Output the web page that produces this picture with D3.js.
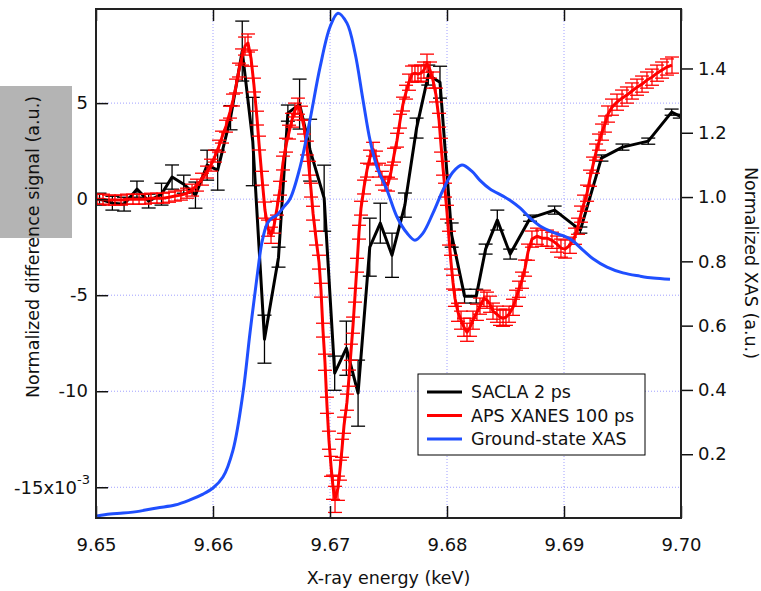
<!DOCTYPE html>
<html>
<head>
<meta charset="utf-8">
<script src="https://cdn.jsdelivr.net/npm/d3@7"></script>
<style>
    body { margin: 0; background: #fff; }
    text { font-family: "DejaVu Sans", Verdana, sans-serif; }
</style>
</head>
<body>
<svg id="chart" width="761" height="591"></svg>
<script>
// SACLA 2 ps difference signal (x1e-3)
var saclaE = [9.6503, 9.6514, 9.6524, 9.6535, 9.6545, 9.6556, 9.6565, 9.6575, 9.6585, 9.6595,
    9.6604, 9.6615, 9.6625, 9.6634, 9.6644, 9.6656, 9.6664, 9.6674, 9.6683, 9.6695,
    9.6704, 9.6714, 9.6724, 9.6734, 9.6743, 9.6753, 9.6764, 9.6774, 9.6784, 9.6794,
    9.6804, 9.6815, 9.6825, 9.6833, 9.6843, 9.6854, 9.6871, 9.6892, 9.6914, 9.6932,
    9.6950, 9.6972, 9.6992, 9.6999];
var saclaV = [0, -0.21, -0.26, 0.52, -0.10, 0.26, 1.15, 0.78, 0.21, 1.77,
    1.51, 4.24, 7.71, 3.0, -7.29, -3.02, 4.48, 4.95, 2.55, 0.05,
    -9.06, -7.76, -10.10, -2.50, -1.25, -2.92, -0.31, 3.70, 6.46, 6.09,
    -1.87, -5.05, -5.05, -2.60, -1.09, -2.86, -0.99, -0.57, -1.61, 2.14,
    2.71, 3.02, 4.53, 4.32];
var saclaErr = [0.31, 0.36, 0.36, 0.42, 0.36, 0.57, 0.63, 0.47, 0.68, 0.78,
    1.04, 0.63, 1.56, 2.3, 1.25, 0.52, 0.42, 1.30, 1.61, 1.72,
    0.89, 1.41, 1.72, 1.51, 1.04, 1.15, 0.63, 0.52, 0.52, 0.83,
    0.63, 0.36, 0.36, 0.26, 0.52, 0.26, 0.16, 0.21, 0.16, 0.16,
    0.16, 0.16, 0.16, 0.10];

// APS XANES 100 ps difference signal (x1e-3)
var apsE = [9.65009, 9.65060, 9.65111, 9.65162, 9.65214, 9.65265, 9.65316, 9.65368, 9.65419, 9.65470,
    9.65521, 9.65573, 9.65624, 9.65675, 9.65726, 9.65778, 9.65821, 9.65863, 9.65906, 9.65949,
    9.65983, 9.66017, 9.66051, 9.66077, 9.66111, 9.66145, 9.66171, 9.66197, 9.66222, 9.66248,
    9.66274, 9.66299, 9.66325, 9.66350, 9.66376, 9.66393, 9.66419, 9.66444, 9.66470, 9.66496,
    9.66521, 9.66547, 9.66573, 9.66598, 9.66624, 9.66650, 9.66675, 9.66701, 9.66726, 9.66752,
    9.66778, 9.66803, 9.66821, 9.66838, 9.66855, 9.66880, 9.66906, 9.66923, 9.66940, 9.66957,
    9.66974, 9.66991, 9.67009, 9.67026, 9.67043, 9.67068, 9.67085, 9.67103, 9.67120, 9.67145,
    9.67162, 9.67179, 9.67197, 9.67214, 9.67231, 9.67248, 9.67265, 9.67291, 9.67316, 9.67342,
    9.67368, 9.67393, 9.67419, 9.67444, 9.67470, 9.67496, 9.67521, 9.67547, 9.67573, 9.67598,
    9.67624, 9.67650, 9.67675, 9.67701, 9.67726, 9.67752, 9.67778, 9.67803, 9.67829, 9.67855,
    9.67880, 9.67906, 9.67932, 9.67949, 9.67966, 9.67983, 9.68000, 9.68017, 9.68034, 9.68051,
    9.68068, 9.68094, 9.68120, 9.68145, 9.68171, 9.68197, 9.68222, 9.68256, 9.68282, 9.68316,
    9.68342, 9.68368, 9.68393, 9.68427, 9.68453, 9.68479, 9.68504, 9.68530, 9.68564, 9.68590,
    9.68615, 9.68641, 9.68667, 9.68692, 9.68726, 9.68769, 9.68812, 9.68855, 9.68897, 9.68940,
    9.68974, 9.69009, 9.69051, 9.69094, 9.69120, 9.69145, 9.69171, 9.69197, 9.69222, 9.69248,
    9.69274, 9.69299, 9.69325, 9.69350, 9.69376, 9.69410, 9.69453, 9.69496, 9.69538, 9.69581,
    9.69624, 9.69667, 9.69709, 9.69752, 9.69795, 9.69838, 9.69880, 9.69923];
var apsV = [0, 0, -0.05, -0.05, -0.05, 0, 0, 0, 0, 0.05,
    0.05, 0.05, 0.10, 0.16, 0.21, 0.31, 0.47, 0.73, 1.04, 1.41,
    1.77, 2.24, 2.76, 3.23, 3.80, 4.53, 5.16, 5.89, 6.72, 7.40,
    7.97, 8.13, 7.34, 5.94, 4.22, 2.92, 1.09, -0.57, -1.51, -1.88,
    -1.41, -0.47, 0.57, 1.88, 2.81, 3.49, 4.11, 4.64, 4.84, 4.48,
    3.75, 2.66, 1.61, 0.47, -0.73, -2.03, -3.28, -4.74, -6.82, -8.49,
    -10.73, -12.55, -13.91, -15.00, -15.63, -15.05, -14.11, -12.97, -11.77, -10.57,
    -9.32, -7.97, -6.56, -5.00, -3.44, -1.72, -0.47, 0.63, 1.51, 2.19,
    2.60, 2.14, 1.51, 1.09, 0.83, 0.78, 1.41, 2.29, 3.07, 4.06,
    4.95, 5.57, 6.09, 6.51, 6.56, 6.51, 6.56, 6.72, 7.08, 6.72,
    6.20, 5.42, 4.11, 2.81, 1.61, 0.47, -0.68, -2.03, -3.28, -4.32,
    -5.16, -5.89, -6.30, -6.67, -6.93, -6.67, -6.30, -5.89, -5.57, -5.16,
    -5.26, -5.47, -5.83, -5.99, -6.15, -6.20, -6.15, -5.99, -5.63, -5.16,
    -4.69, -4.22, -3.59, -2.76, -2.08, -1.93, -2.03, -2.03, -2.14, -2.34,
    -2.55, -2.60, -2.40, -1.93, -1.41, -0.78, -0.21, 0.31, 1.09, 1.77,
    2.45, 2.97, 3.49, 3.91, 4.43, 4.79, 5.05, 5.26, 5.42, 5.63,
    5.83, 5.99, 6.20, 6.35, 6.56, 6.72, 6.88, 6.98];
var apsErr = [0.26, 0.26, 0.26, 0.26, 0.26, 0.26, 0.26, 0.26, 0.26, 0.26,
    0.26, 0.26, 0.26, 0.26, 0.26, 0.26, 0.31, 0.31, 0.31, 0.31,
    0.31, 0.31, 0.31, 0.31, 0.31, 0.31, 0.31, 0.36, 0.36, 0.42,
    0.47, 0.47, 0.42, 0.36, 0.36, 0.36, 0.36, 0.42, 0.42, 0.42,
    0.36, 0.36, 0.36, 0.36, 0.36, 0.36, 0.36, 0.36, 0.42, 0.36,
    0.36, 0.36, 0.36, 0.36, 0.36, 0.36, 0.36, 0.36, 0.36, 0.42,
    0.42, 0.47, 0.52, 0.63, 0.68, 0.63, 0.52, 0.47, 0.42, 0.42,
    0.42, 0.42, 0.42, 0.36, 0.36, 0.36, 0.36, 0.36, 0.36, 0.36,
    0.36, 0.36, 0.36, 0.36, 0.36, 0.36, 0.36, 0.36, 0.36, 0.36,
    0.36, 0.36, 0.42, 0.42, 0.42, 0.42, 0.42, 0.42, 0.47, 0.42,
    0.42, 0.36, 0.36, 0.36, 0.36, 0.36, 0.36, 0.36, 0.36, 0.36,
    0.42, 0.47, 0.47, 0.47, 0.47, 0.47, 0.47, 0.42, 0.42, 0.42,
    0.42, 0.42, 0.42, 0.42, 0.42, 0.42, 0.42, 0.42, 0.42, 0.42,
    0.42, 0.42, 0.42, 0.42, 0.42, 0.42, 0.42, 0.42, 0.42, 0.42,
    0.47, 0.47, 0.42, 0.42, 0.42, 0.42, 0.42, 0.42, 0.42, 0.42,
    0.42, 0.42, 0.42, 0.42, 0.42, 0.42, 0.42, 0.42, 0.42, 0.42,
    0.42, 0.42, 0.42, 0.42, 0.42, 0.42, 0.42, 0.42];

// Ground-state XAS (right axis)
var xasE = [9.65009, 9.65120, 9.65231, 9.65376, 9.65521, 9.65675, 9.65803, 9.65915, 9.66000, 9.66085,
    9.66171, 9.66256, 9.66316, 9.66376, 9.66419, 9.66462, 9.66504, 9.66547, 9.66598, 9.66658,
    9.66744, 9.66829, 9.66915, 9.67000, 9.67068, 9.67145, 9.67214, 9.67282, 9.67342, 9.67402,
    9.67487, 9.67573, 9.67658, 9.67726, 9.67795, 9.67880, 9.67966, 9.68051, 9.68128, 9.68214,
    9.68282, 9.68368, 9.68479, 9.68538, 9.68624, 9.68709, 9.68795, 9.68906, 9.69051, 9.69162,
    9.69248, 9.69368, 9.69504, 9.69650, 9.69761, 9.69906];
var xasV = [0.008, 0.014, 0.017, 0.023, 0.033, 0.042, 0.058, 0.076, 0.095, 0.129,
    0.213, 0.390, 0.577, 0.751, 0.860, 0.916, 0.935, 0.944, 0.966, 0.994,
    1.093, 1.240, 1.404, 1.529, 1.572, 1.541, 1.448, 1.302, 1.177, 1.093,
    1.022, 0.938, 0.888, 0.866, 0.888, 0.950, 1.022, 1.078, 1.100, 1.080,
    1.052, 1.025, 1.003, 0.990, 0.966, 0.935, 0.910, 0.890, 0.870, 0.835,
    0.808, 0.782, 0.764, 0.754, 0.748, 0.744];

var xTicks = [9.65, 9.66, 9.67, 9.68, 9.69, 9.70];
var yTicks = [5, 0, -5, -10, -15];
var y2Ticks = [0.2, 0.4, 0.6, 0.8, 1.0, 1.2, 1.4];
var legendLabels = ["SACLA 2 ps", "APS XANES 100 ps", "Ground-state XAS"];
var colors = ["#000000", "#ff0000", "#1f4fff"];

var svg = d3.select("#chart");
var pL = 96, pR = 681, pT = 9, pB = 518;

var x = d3.scaleLinear().domain([9.65, 9.70]).range([pL, pR]);
var y = d3.scaleLinear().domain([-16.6, 9.9]).range([pB, pT]);
var y2 = d3.scaleLinear().domain([0.0016, 1.585]).range([pB, pT]);

svg.append("clipPath").attr("id", "plotclip")
    .append("rect").attr("x", pL).attr("y", pT)
    .attr("width", pR - pL).attr("height", pB - pT);

// grid
var grid = svg.append("g").attr("stroke", "#a0a0ff").attr("stroke-width", 1)
    .attr("stroke-dasharray", "1,2");
grid.selectAll(".gx").data(xTicks).enter().append("line")
    .attr("x1", d => x(d)).attr("x2", d => x(d))
    .attr("y1", pT).attr("y2", pB);
grid.selectAll(".gy").data(yTicks).enter().append("line")
    .attr("x1", pL).attr("x2", pR)
    .attr("y1", d => y(d)).attr("y2", d => y(d));

// gray box behind left label
svg.append("rect").attr("x", 0).attr("y", 86).attr("width", 72).attr("height", 152)
    .attr("fill", "#b4b4b4");

var plot = svg.append("g").attr("clip-path", "url(#plotclip)");

function drawErrSeries(E, V, Err, color) {
    var pts = E.map((e, i) => ({e: e, v: V[i], err: Err[i]}));
    var g = plot.append("g");
    var line = d3.line().x(d => x(d.e)).y(d => y(d.v));
    g.append("path").datum(pts).attr("d", line)
        .attr("fill", "none").attr("stroke", color).attr("stroke-width", 3)
        .attr("stroke-linejoin", "round");
    var eb = g.selectAll(".eb").data(pts).enter().append("g")
        .attr("stroke", color).attr("stroke-width", 1.3);
    eb.append("line")
        .attr("x1", d => x(d.e)).attr("x2", d => x(d.e))
        .attr("y1", d => y(d.v - d.err)).attr("y2", d => y(d.v + d.err));
    eb.append("line")
        .attr("x1", d => x(d.e) - 7).attr("x2", d => x(d.e) + 7)
        .attr("y1", d => y(d.v - d.err)).attr("y2", d => y(d.v - d.err));
    eb.append("line")
        .attr("x1", d => x(d.e) - 7).attr("x2", d => x(d.e) + 7)
        .attr("y1", d => y(d.v + d.err)).attr("y2", d => y(d.v + d.err));
}

drawErrSeries(saclaE, saclaV, saclaErr, colors[0]);
drawErrSeries(apsE, apsV, apsErr, colors[1]);

var xas = xasE.map((e, i) => ({e: e, v: xasV[i]}));
plot.append("path").datum(xas)
    .attr("d", d3.line().x(d => x(d.e)).y(d => y2(d.v)).curve(d3.curveCatmullRom.alpha(0.5)))
    .attr("fill", "none").attr("stroke", colors[2]).attr("stroke-width", 3);

// axes
var fs = "18px";
var gB = svg.append("g").attr("transform", "translate(0," + pB + ")")
    .call(d3.axisBottom(x).tickValues(xTicks).tickSizeInner(-12).tickSizeOuter(0)
        .tickPadding(20).tickFormat(d3.format(".2f")));
var gT = svg.append("g").attr("transform", "translate(0," + pT + ")")
    .call(d3.axisTop(x).tickValues(xTicks).tickSizeInner(-12).tickSizeOuter(0).tickFormat(""));
var gL = svg.append("g").attr("transform", "translate(" + pL + ",0)")
    .call(d3.axisLeft(y).tickValues(yTicks).tickSizeInner(-12).tickSizeOuter(0)
        .tickPadding(8).tickFormat(d => d === -15 ? "" : String(d)));
var gR = svg.append("g").attr("transform", "translate(" + pR + ",0)")
    .call(d3.axisRight(y2).tickValues(y2Ticks).tickSize(12).tickPadding(5)
        .tickFormat(d3.format(".1f")));

[gB, gT, gL, gR].forEach(function (g) {
    g.select(".domain").remove();
    g.selectAll(".tick line").attr("stroke", "#111").attr("stroke-width", 1.5);
    g.selectAll("text").attr("font-size", fs).attr("fill", "#111")
        .style("font-family", "'DejaVu Sans', Verdana, sans-serif");
});

// -15x10^-3 label
var t15 = svg.append("text").attr("x", 90).attr("y", y(-15)).attr("dy", "0.35em")
    .attr("text-anchor", "end").attr("font-size", fs).attr("fill", "#111");
t15.append("tspan").text("-15x10");
t15.append("tspan").attr("font-size", "13px").attr("dy", "-0.75em").text("-3");

// frame
svg.append("rect").attr("x", pL).attr("y", pT)
    .attr("width", pR - pL).attr("height", pB - pT)
    .attr("fill", "none").attr("stroke", "#222").attr("stroke-width", 2);

// axis titles
var ts = "17.5px";
svg.append("text").attr("transform", "translate(39,247) rotate(-90)")
    .attr("text-anchor", "middle").attr("font-size", ts).attr("fill", "#111")
    .text("Normalized difference signal (a.u.)");
svg.append("text").attr("transform", "translate(745,263) rotate(90)")
    .attr("text-anchor", "middle").attr("font-size", ts).attr("fill", "#111")
    .text("Normalized XAS (a.u.)");
svg.append("text").attr("x", (pL + pR) / 2).attr("y", 584)
    .attr("text-anchor", "middle").attr("font-size", ts).attr("fill", "#111")
    .text("X-ray energy (keV)");

// legend
var lg = svg.append("g");
lg.append("rect").attr("x", 418).attr("y", 374).attr("width", 227).attr("height", 81)
    .attr("fill", "#fff").attr("stroke", "#000").attr("stroke-width", 1);
legendLabels.forEach(function (lab, i) {
    var yy = 392 + i * 23.5;
    lg.append("line").attr("x1", 427).attr("x2", 462).attr("y1", yy).attr("y2", yy)
        .attr("stroke", colors[i]).attr("stroke-width", 3);
    lg.append("text").attr("x", 471).attr("y", yy).attr("dy", "0.36em")
        .attr("font-size", "17.5px").attr("fill", "#111").text(lab);
});
</script>
</body>
</html>
